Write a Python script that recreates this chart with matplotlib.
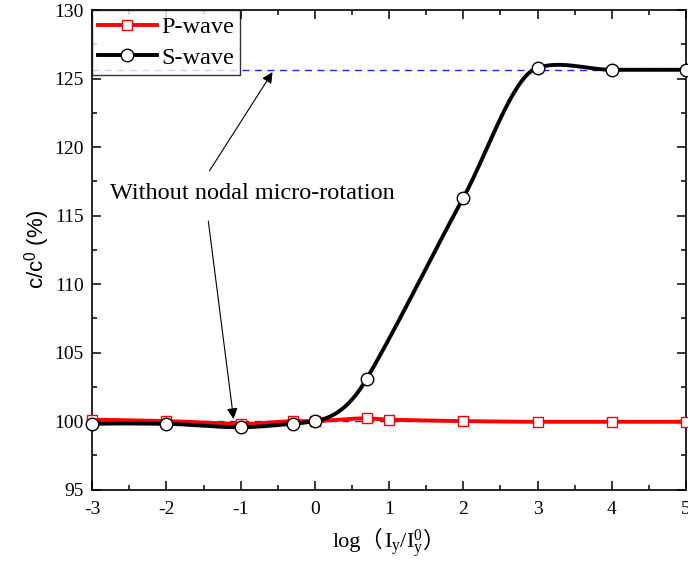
import numpy as np
import matplotlib.pyplot as plt
from matplotlib.ticker import MultipleLocator
from matplotlib.offsetbox import TextArea, HPacker, AnchoredOffsetbox

# datos
log_ratio = [-3, -2, -1, -0.3, 0, 0.7, 1, 2, 3, 4, 5]
p_wave = [100.1, 100.0, 99.8, 100.0, 100.0, 100.2, 100.1, 100.0, 99.95, 99.95, 99.95]
s_x = [-3, -2, -1, -0.3, 0, 0.7, 2, 3, 4, 5]
s_wave = [99.8, 99.8, 99.55, 99.8, 100.0, 103.1, 116.3, 125.8, 125.65, 125.65]
ref_levels = [125.65, 100.0]


def akima(x, y, n=500):
    """Curva suave tipo Akima (como el 'spline' de Origin)."""
    x = np.asarray(x, float)
    y = np.asarray(y, float)
    m = np.diff(y) / np.diff(x)
    # pendientes extrapoladas en los extremos
    left = 2 * m[0] - m[1]
    right = 2 * m[-1] - m[-2]
    mm = np.concatenate([[2 * left - m[0], left], m, [right, 2 * right - m[-1]]])
    t = np.zeros(len(x))
    for i in range(len(x)):
        m1, m2, m3, m4 = mm[i], mm[i + 1], mm[i + 2], mm[i + 3]
        w1 = abs(m4 - m3)
        w2 = abs(m2 - m1)
        t[i] = (m2 + m3) / 2 if w1 + w2 == 0 else (w1 * m2 + w2 * m3) / (w1 + w2)
    xs = np.linspace(x[0], x[-1], n)
    j = np.clip(np.searchsorted(x, xs) - 1, 0, len(x) - 2)
    h = x[j + 1] - x[j]
    s = (xs - x[j]) / h
    h00 = 2 * s ** 3 - 3 * s ** 2 + 1
    h10 = s ** 3 - 2 * s ** 2 + s
    h01 = -2 * s ** 3 + 3 * s ** 2
    h11 = s ** 3 - s ** 2
    ys = h00 * y[j] + h10 * h * t[j] + h01 * y[j + 1] + h11 * h * t[j + 1]
    return xs, ys


plt.rcParams['font.family'] = ['Liberation Serif', 'Noto Sans CJK SC']
plt.rcParams['mathtext.fontset'] = 'custom'
plt.rcParams['mathtext.rm'] = 'Liberation Serif'
plt.rcParams['mathtext.it'] = 'Liberation Serif:italic'
plt.rcParams['axes.unicode_minus'] = False

fig = plt.figure(figsize=(6.88, 5.66), dpi=100)
ax = fig.add_axes([0.134, 0.135, 0.863, 0.847])

for lvl in ref_levels:
    ax.axhline(lvl, color='#2020ff', lw=1.0, ls=(0, (5, 4)), zorder=1)

xs, ys = akima(log_ratio, p_wave)
ax.plot(xs, ys, color='red', lw=2.8, zorder=2)
ax.plot(log_ratio, p_wave, ls='none', marker='s', ms=7, mfc='white', mec='red', mew=1.0, zorder=3, clip_on=False)

xs, ys = akima(s_x, s_wave)
ax.plot(xs, ys, color='black', lw=2.8, zorder=4)
ax.plot(s_x, s_wave, ls='none', marker='o', ms=9, mfc='white', mec='black', mew=1.0, zorder=5, clip_on=False)

# entradas de leyenda
ax.plot([], [], color='red', lw=2.8, marker='s', ms=7, mfc='white', mec='red', label='P-wave')
ax.plot([], [], color='black', lw=2.8, marker='o', ms=9, mfc='white', mec='black', label='S-wave')
leg = ax.legend(loc='upper left', fontsize=17.5, frameon=True, fancybox=False, edgecolor='black',
                borderaxespad=0, handlelength=2.4, handletextpad=0.2, borderpad=0.25,
                labelspacing=0.35)
leg.get_frame().set_linewidth(1.0)
leg.set_zorder(10)

ax.text(-0.84, 116.6, 'Without nodal micro-rotation', fontsize=17.5, ha='center', va='center')
arrow = dict(arrowstyle='-|>', color='black', lw=0.8, mutation_scale=16)
ax.annotate('', xy=(-0.55, 125.65), xytext=(-1.44, 118.1), arrowprops=arrow)
ax.annotate('', xy=(-1.09, 99.95), xytext=(-1.44, 114.8), arrowprops=arrow)

ax.set_xlim(-3, 5)
ax.set_ylim(95, 130)
ax.xaxis.set_major_locator(MultipleLocator(1))
ax.xaxis.set_minor_locator(MultipleLocator(0.5))
ax.yaxis.set_major_locator(MultipleLocator(5))
ax.yaxis.set_minor_locator(MultipleLocator(2.5))
ax.tick_params(which='both', direction='in', top=True, right=True, labelsize=14, width=1.1)
ax.tick_params(which='major', length=6.5)
ax.tick_params(axis='x', which='major', pad=8)
ax.tick_params(axis='y', which='major', pad=6)
ax.tick_params(which='minor', length=3.5)
for s in ax.spines.values():
    s.set_linewidth(1.2)

# etiqueta x: parentesis de ancho completo fuera del mathtext
cjk = ['Liberation Serif', 'Noto Sans CJK SC']
parts = [TextArea('log（', textprops=dict(fontsize=16, family=cjk)),
         TextArea(r'$\mathregular{I_y/I_y^0}$', textprops=dict(fontsize=16)),
         TextArea('）', textprops=dict(fontsize=16, family=cjk))]
xlab = HPacker(children=parts, align='baseline', pad=0, sep=0)
ax.add_artist(AnchoredOffsetbox(loc='upper center', child=xlab, frameon=False, pad=0, borderpad=0,
                                bbox_to_anchor=(0.5, -0.078), bbox_transform=ax.transAxes))

ax.set_ylabel(r'c/c$^{\mathregular{0}}$ (%)', fontsize=16, family='Liberation Sans', labelpad=2)

fig.savefig('out.png', dpi=100)
